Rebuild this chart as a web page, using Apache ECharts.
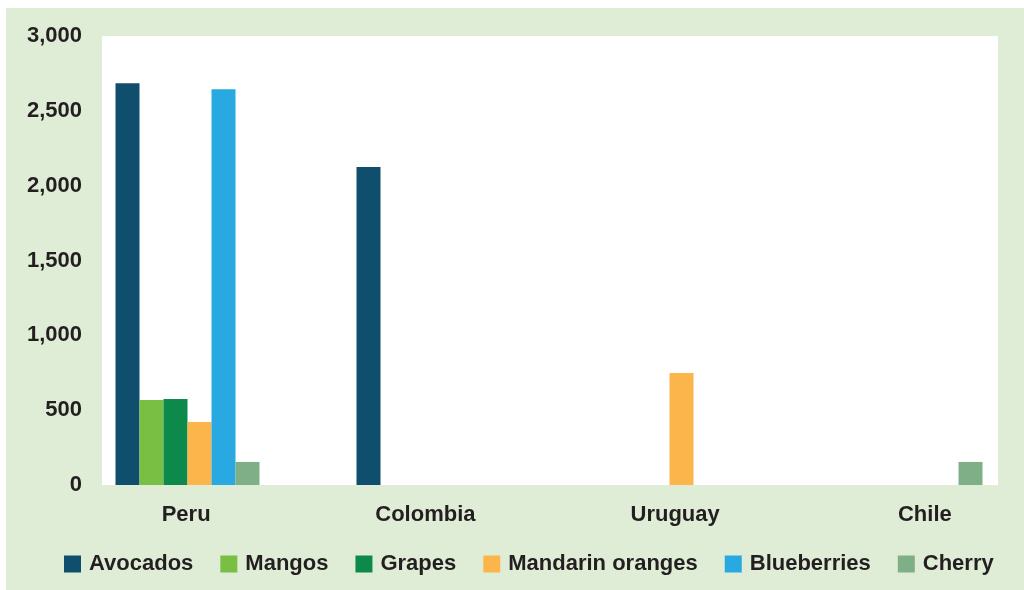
<!DOCTYPE html>
<html>
<head>
	<meta http-equiv="Content-Type" content="text/html; charset=utf-8" />
	<title></title>
	<script src="https://cdn.jsdelivr.net/npm/echarts@6/dist/echarts.min.js"></script>
</head>
<body style="padding: 0;margin: 0;background: #fff;overflow: hidden;">
<!-- canvas a little wider than the window: the category bands run past the right edge -->
<div id="main" style="width: 1060px;height:590px;"></div>

<script type="text/javascript">
	// data
	var countries = ["Peru", "Colombia", "Uruguay", "Chile"];
	var yTicks = [0, 500, 1000, 1500, 2000, 2500, 3000];
	var avocados = [2685, 2124, null, null];
	var mangos = [568, null, null, null];
	var grapes = [575, null, null, null];
	var mandarins = [421, null, 748, null];
	var blueberries = [2645, null, null, null];
	var cherry = [154, null, null, 154];

	var names = ["Avocados", "Mangos", "Grapes", "Mandarin oranges", "Blueberries", "Cherry"];
	var values = [avocados, mangos, grapes, mandarins, blueberries, cherry];
	var colors = ['#0f4f6d', '#79bf43', '#0d8a4b', '#fbb54a', '#29a9e1', '#7eaf87'];

	var txt = '#231f20';
	var font = 'Liberation Sans, Arial, sans-serif';
	// labels in the picture are not evenly spaced, nudge them (right padding moves text left)
	var labelPad = [0, 14, 7, 0];

	var myChart = echarts.init(document.getElementById('main'));

	var series = [];
	for (var i = 0; i < names.length; i++) {
		series.push({
			name: names[i],
			type: 'bar',
			data: values[i],
			barWidth: 24,
			barGap: '0%',
			itemStyle: { color: colors[i] }
		});
	}

	var rich = {};
	for (var k = 0; k < labelPad.length; k++) {
		rich['c' + k] = { color: txt, fontSize: 22, fontWeight: 'bold', fontFamily: font, padding: [0, labelPad[k], 0, 0] };
	}

	var option = {
		backgroundColor: '#ffffff',
		animation: false,
		color: colors,
		graphic: [
			{ type: 'rect', z: -20, silent: true, shape: { x: 6, y: 8, width: 1054, height: 582 }, style: { fill: '#e0edd6' } },
			{ type: 'rect', z: -10, silent: true, shape: { x: 102, y: 36, width: 896, height: 449 }, style: { fill: '#ffffff' } }
		],
		// bars grid and a second grid only for the category labels
		grid: [
			{ left: 67, width: 964, top: 36, height: 449, containLabel: false },
			{ left: 63, width: 985, top: 36, height: 449, containLabel: false }
		],
		legend: {
			left: 59,
			top: 548,
			itemWidth: 17,
			itemHeight: 17,
			itemGap: 27,
			icon: 'rect',
			textStyle: { color: txt, fontSize: 22, fontWeight: 'bold', fontFamily: font, padding: [0, 0, 0, 3] },
			data: names
		},
		xAxis: [
			{
				type: 'category',
				gridIndex: 0,
				data: countries,
				axisLine: { show: false },
				axisTick: { show: false },
				axisLabel: { show: false }
			},
			{
				type: 'category',
				gridIndex: 1,
				data: countries,
				axisLine: { show: false },
				axisTick: { show: false },
				axisLabel: {
					color: txt, fontSize: 22, fontWeight: 'bold', fontFamily: font, margin: 19,
					rich: rich,
					formatter: function (v, idx) { return '{c' + idx + '|' + v + '}'; }
				}
			}
		],
		yAxis: [
			{
				type: 'value',
				gridIndex: 0,
				min: yTicks[0],
				max: yTicks[yTicks.length - 1],
				interval: 500,
				splitLine: { show: false },
				axisLine: { show: false },
				axisTick: { show: false },
				axisLabel: {
					color: txt, fontSize: 22, fontWeight: 'bold', fontFamily: font, margin: -15,
					formatter: function (v) { return v.toLocaleString('en-US'); }
				}
			},
			{
				type: 'value',
				gridIndex: 1,
				show: false,
				min: 0,
				max: 3000
			}
		],
		series: series
	};
	myChart.setOption(option);
</script>
</body>
</html>
